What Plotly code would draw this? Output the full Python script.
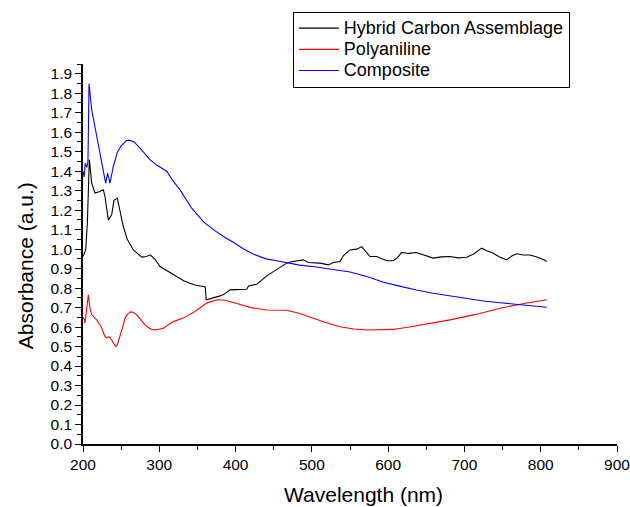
import plotly.graph_objects as go

# ---- Data ----
hca_x = [200, 203.5, 205.7, 208.3, 211.4, 215.7, 222, 226.6, 228.8, 233.2, 237.6, 240.6, 245, 248.5, 252.8,
         258, 266, 277, 283, 288, 294.4, 301, 309.7, 316, 322.8, 332, 340, 348, 357.7, 360.3, 361.5, 366,
         371, 379.6, 385, 392.7, 400, 414.6, 417, 427.7, 434, 440.8, 447, 453.9, 460, 467, 473, 480.1,
         488.8, 495.3, 503, 510.7, 521.6, 528.1, 536.9, 541.2, 550, 558.8, 565.3, 570, 576.2, 585, 592,
         598, 606.7, 612, 617.7, 627, 636.9, 648, 659, 670, 681, 692, 702.9, 712, 722.6, 730, 737.8,
         746, 755.4, 762, 768.5, 777, 786, 793, 799, 804, 808]
hca_y = [0.962, 0.996, 1.133, 1.459, 1.339, 1.288, 1.296, 1.305, 1.27, 1.15, 1.176, 1.25, 1.262, 1.20, 1.116,
         1.05, 0.996, 0.959, 0.962, 0.971, 0.948, 0.911, 0.89, 0.875, 0.859, 0.838, 0.825, 0.815, 0.808, 0.805, 0.74, 0.745,
         0.748, 0.76, 0.768, 0.791, 0.792, 0.794, 0.811, 0.82, 0.84, 0.863, 0.878, 0.894, 0.91, 0.928, 0.935, 0.94,
         0.945, 0.931, 0.93, 0.928, 0.919, 0.931, 0.936, 0.966, 0.996, 1.0, 1.013, 0.99, 0.962, 0.962, 0.95,
         0.94, 0.94, 0.955, 0.983, 0.978, 0.983, 0.97, 0.954, 0.96, 0.962, 0.955, 0.958, 0.975, 1.005, 0.99, 0.979,
         0.96, 0.945, 0.965, 0.976, 0.97, 0.97, 0.962, 0.954, 0.945, 0.936]

pani_x = [200, 201.5, 202.6, 205, 207, 209, 211.4, 218, 224, 228.8, 231, 233, 235.4, 237.6, 240, 242.8, 245,
          248.5, 252, 255, 258, 262.5, 266, 270.4, 276, 281.3, 287, 292.2, 298, 305.3, 318.4, 331.5, 346.8,
          362.1, 375.2, 386, 397, 420, 440.8, 467, 482, 497.5, 517, 536.9, 555, 571.9, 590, 606, 628, 650,
          681, 715, 747, 780, 808]
pani_y = [0.65, 0.64, 0.62, 0.70, 0.765, 0.70, 0.663, 0.637, 0.60, 0.551, 0.545, 0.55, 0.548, 0.534, 0.52, 0.50, 0.51,
          0.551, 0.60, 0.646, 0.665, 0.678, 0.676, 0.663, 0.635, 0.611, 0.594, 0.585, 0.588, 0.594, 0.628, 0.646, 0.68,
          0.723, 0.74, 0.738, 0.726, 0.70, 0.688, 0.686, 0.672, 0.651, 0.625, 0.602, 0.59, 0.585, 0.585, 0.588, 0.60, 0.615,
          0.637, 0.665, 0.697, 0.722, 0.74]

comp_x = [200, 201.5, 203, 205, 206.5, 207.9, 211.4, 213.5, 220, 225, 229.7, 232.3, 235.4, 239.7, 245,
          250, 257.3, 261.6, 267, 274.7, 287.8, 297, 309.7, 318, 327, 342.5, 358, 371, 384, 397, 410,
          423, 440, 454, 471, 484, 506, 524, 550, 572, 594, 615, 637, 659, 681, 703, 725, 747, 768, 790, 808]
comp_y = [1.40, 1.37, 1.44, 1.42, 1.45, 1.849, 1.715, 1.673, 1.544, 1.45, 1.339, 1.39, 1.339, 1.424, 1.496,
          1.53, 1.558, 1.558, 1.55, 1.518, 1.459, 1.43, 1.40, 1.35, 1.305, 1.21, 1.14, 1.10, 1.065, 1.035, 1.002,
          0.975, 0.95, 0.94, 0.928, 0.918, 0.908, 0.898, 0.883, 0.86, 0.83, 0.81, 0.79, 0.774, 0.76, 0.747, 0.734,
          0.725, 0.717, 0.71, 0.702]

series_names = ["Hybrid Carbon Assemblage", "Polyaniline", "Composite"]
series_colors = ["#000000", "#ff0000", "#0000ff"]

x_ticks = [200, 300, 400, 500, 600, 700, 800, 900]

FONT = "Liberation Sans, Arial, sans-serif"

fig = go.Figure()
for name, xs, ys, col in zip(series_names, [hca_x, pani_x, comp_x], [hca_y, pani_y, comp_y], series_colors):
    fig.add_trace(go.Scatter(x=xs, y=ys, mode="lines",
                             name='<span style="font-size:18px">' + name + '</span>',
                             line=dict(color=col, width=1.1)))

fig.update_layout(
    width=630, height=507,
    margin=dict(l=83, r=13, t=64, b=63, autoexpand=False),
    plot_bgcolor="white", paper_bgcolor="white",
    font=dict(family=FONT, color="black", size=16),
    showlegend=True,
    legend=dict(x=0.393, y=1.138, xanchor="left", yanchor="top",
                bordercolor="black", borderwidth=1, bgcolor="white",
                font=dict(size=14, family=FONT), tracegroupgap=0, itemwidth=40),
    xaxis=dict(range=[200, 900], tickvals=x_ticks, ticks="outside", ticklen=6, tickwidth=1.3,
               tickcolor="black", showline=True, linecolor="black", linewidth=1.5,
               showgrid=False, zeroline=False, tickfont=dict(size=15.5, family=FONT),
               ticklabeloverflow="allow",
               minor=dict(dtick=50, tick0=200, ticks="outside", ticklen=4, tickwidth=1.3, tickcolor="black",
                          showgrid=False)),
    yaxis=dict(range=[0, 1.95], tick0=0, dtick=0.1, tickformat=".1f", ticks="outside", ticklen=6,
               tickwidth=1.3, tickcolor="black", showline=True, linecolor="black", linewidth=1.5,
               showgrid=False, zeroline=False, tickfont=dict(size=15.5, family=FONT),
               minor=dict(dtick=0.05, tick0=0, ticks="outside", ticklen=4, tickwidth=1.3, tickcolor="black",
                          showgrid=False)),
    annotations=[
        dict(text="Absorbance (a.u.)", textangle=-90, xref="paper", yref="paper",
             x=-0.1086, y=0.468, xanchor="center", yanchor="middle", showarrow=False,
             font=dict(size=21, family=FONT)),
        dict(text="Wavelength (nm)", xref="paper", yref="paper",
             x=0.526, y=-0.1316, xanchor="center", yanchor="middle", showarrow=False,
             font=dict(size=21, family=FONT)),
    ],
)

# Remove the default page margin so the 630x507 figure fills the window exactly.
fig.write_html("out.html", config={"displayModeBar": False},
               post_script="document.body.style.margin='0px';document.body.style.overflow='hidden';")
